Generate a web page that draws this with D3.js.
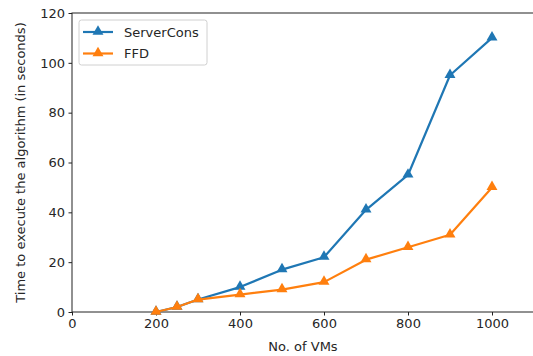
<!DOCTYPE html>
<html>
<head>
<meta charset="utf-8">
<script src="https://cdn.jsdelivr.net/npm/d3@7"></script>
<style>
  body { margin: 0; background: #fff; }
  text { font-family: "DejaVu Sans", sans-serif; fill: #262626; }
</style>
</head>
<body>
<div id="chart"></div>
<script>
// data
const vms = [200, 250, 300, 400, 500, 600, 700, 800, 900, 1000]
const serverCons = [0, 2, 5, 10, 17, 22, 41, 55, 95, 110]
const ffd = [0, 2, 5, 7, 9, 12, 21, 26, 31, 50]
const xTicks = [0, 200, 400, 600, 800, 1000]
const yTicks = [0, 20, 40, 60, 80, 100, 120]

const series = [
  { name: "ServerCons", values: serverCons, color: "#1f77b4" },
  { name: "FFD", values: ffd, color: "#ff7f0e" }
]

const width = 533
const height = 356
const margin = { top: 13, right: -1, bottom: 44, left: 72 }

const svg = d3.select("#chart")
  .append("svg")
    .attr("width", width)
    .attr("height", height)

const x = d3.scaleLinear()
  .domain([0, 1100])
  .range([margin.left, width - margin.right])

const y = d3.scaleLinear()
  .domain([0, 120])
  .range([height - margin.bottom, margin.top])

const fontSize = 13

// axes
const xAxis = svg.append("g")
  .attr("transform", `translate(0,${height - margin.bottom})`)
  .call(d3.axisBottom(x).tickValues(xTicks).tickFormat(d3.format("d"))
    .tickSize(3.5).tickPadding(3.5).tickSizeOuter(0))
const yAxis = svg.append("g")
  .attr("transform", `translate(${margin.left},0)`)
  .call(d3.axisLeft(y).tickValues(yTicks).tickFormat(d3.format("d"))
    .tickSize(3.5).tickPadding(3.5).tickSizeOuter(0))

for (const ax of [xAxis, yAxis]) {
  ax.select(".domain").remove()
  ax.selectAll("line").attr("stroke", "#222").attr("stroke-width", 1)
  ax.selectAll("text").style("font-size", fontSize + "px").attr("fill", "#262626")
}

// spines
svg.append("rect")
  .attr("x", x(0))
  .attr("y", y(120))
  .attr("width", x(1100) - x(0))
  .attr("height", y(0) - y(120))
  .attr("fill", "none")
  .attr("stroke", "#222")
  .attr("stroke-width", 1)

// lines + markers
const tri = d3.symbol().type(d3.symbolTriangle).size(52)

series.forEach(s => {
  const pts = vms.map((v, i) => [v, s.values[i]])
  svg.append("path")
    .datum(pts)
    .attr("fill", "none")
    .attr("stroke", s.color)
    .attr("stroke-width", 2.2)
    .attr("stroke-linejoin", "round")
    .attr("d", d3.line().x(d => x(d[0])).y(d => y(d[1])))
  svg.append("g")
    .selectAll("path")
    .data(pts)
    .join("path")
      .attr("d", tri)
      .attr("transform", d => `translate(${x(d[0])},${y(d[1]) - 0.5})`)
      .attr("fill", s.color)
})

// axis labels
svg.append("text")
  .attr("x", (x(0) + x(1100)) / 2)
  .attr("y", 351)
  .attr("text-anchor", "middle")
  .style("font-size", fontSize + "px")
  .text("No. of VMs")

svg.append("text")
  .attr("transform", `translate(25,${(y(0) + y(120)) / 2}) rotate(-90)`)
  .attr("text-anchor", "middle")
  .style("font-size", fontSize + "px")
  .text("Time to execute the algorithm (in seconds)")

// legend
const legend = svg.append("g").attr("transform", "translate(79,20)")
legend.append("rect")
  .attr("width", 128)
  .attr("height", 45)
  .attr("rx", 2.5)
  .attr("fill", "#fff")
  .attr("stroke", "#d0d0d0")
  .attr("stroke-width", 1)

series.forEach((s, i) => {
  const ly = 12 + i * 21.5
  legend.append("line")
    .attr("x1", 4).attr("x2", 34)
    .attr("y1", ly).attr("y2", ly)
    .attr("stroke", s.color)
    .attr("stroke-width", 2.2)
  legend.append("path")
    .attr("d", tri)
    .attr("transform", `translate(19,${ly - 0.5})`)
    .attr("fill", s.color)
  legend.append("text")
    .attr("x", 45)
    .attr("y", ly)
    .attr("dy", "0.35em")
    .style("font-size", fontSize + "px")
    .text(s.name)
})
</script>
</body>
</html>
